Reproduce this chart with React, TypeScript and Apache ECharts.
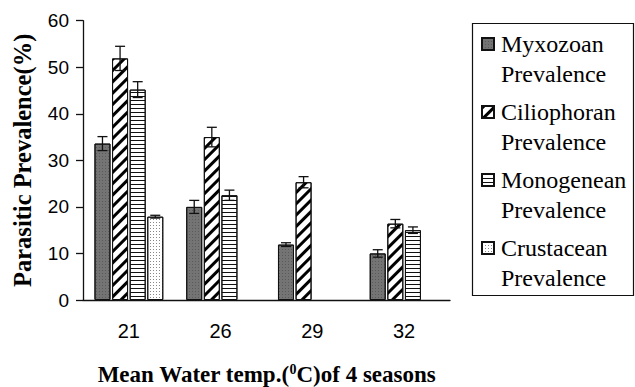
import React, { useEffect, useRef } from "react";
import * as echarts from "echarts";

const categories = ["21", "26", "29", "32"];
const seriesNames = [
  "Myxozoan Prevalence",
  "Ciliophoran Prevalence",
  "Monogenean Prevalence",
  "Crustacean Prevalence",
];
const myxozoan = [33.6, 20.0, 11.9, 10.0];
const myxozoanErr = [1.5, 1.4, 0.4, 0.8];
const ciliophoran = [51.9, 35.0, 25.3, 16.4];
const ciliophoranErr = [2.6, 2.1, 1.2, 0.9];
const monogenean = [45.2, 22.5, null, 15.0];
const monogeneanErr = [1.7, 1.1, null, 0.7];
const crustacean = [17.9, null, null, null];
const crustaceanErr = [0.3, null, null, null];
const yTicks = [0, 10, 20, 30, 40, 50, 60];

const values = [myxozoan, ciliophoran, monogenean, crustacean];
const errors = [myxozoanErr, ciliophoranErr, monogeneanErr, crustaceanErr];

const BAR_W = 16;
const GAP_PCT = 0.1;
const SERIF = "'Liberation Serif', 'Times New Roman', serif";
const SANS = "'Liberation Sans', Arial, sans-serif";

const decals: any[] = [
  { symbol: "rect", symbolSize: 1, dashArrayX: [1, 2], dashArrayY: [1, 2], color: "rgba(40,40,40,0.35)" },
  { symbol: "rect", symbolSize: 1, dashArrayX: [1, 0], dashArrayY: [2.5, 4.5], rotation: -Math.PI / 4, color: "#000" },
  { symbol: "rect", symbolSize: 1, dashArrayX: [1, 0], dashArrayY: [1, 2.5], color: "#111" },
  { symbol: "rect", symbolSize: 1, dashArrayX: [1, 2], dashArrayY: [1, 2], color: "#888" },
];
const fills = ["#747474", "#ffffff", "#ffffff", "#ffffff"];

const serifRich = {
  t: {
    fontFamily: SERIF,
    fontSize: 24,
    lineHeight: 30,
    color: "#000",
    padding: [0, 0, 0, 2],
  },
};

export default function App() {
  const ref = useRef<HTMLDivElement>(null);
  useEffect(() => {
    if (!ref.current) return;
    const chart = echarts.init(ref.current, null, { renderer: "svg" });
    const barSeries = seriesNames.map((name, i) => ({
      name,
      type: "bar",
      data: values[i],
      barWidth: BAR_W,
      barGap: GAP_PCT * 100 + "%",
      itemStyle: {
        color: fills[i],
        borderColor: "#111",
        borderWidth: 1,
        decal: decals[i],
      },
      z: 2,
    }));
    const errSeries = seriesNames.map((name, i) => ({
      type: "custom",
      name: name + " err",
      z: 5,
      encode: { x: 0, y: [1, 2] },
      data: values[i]
        .map((v, k) => (v == null || errors[i][k] == null ? null : [k, (v as number) - (errors[i][k] as number), (v as number) + (errors[i][k] as number)]))
        .filter((d) => d !== null),
      renderItem: (params: any, api: any) => {
        const x = api.value(0);
        const lo = api.coord([x, api.value(1)]);
        const hi = api.coord([x, api.value(2)]);
        const gap = BAR_W * GAP_PCT;
        const total = 4 * BAR_W + 3 * gap;
        const cx = lo[0] - total / 2 + i * (BAR_W + gap) + BAR_W / 2;
        const hw = 5;
        const style = { stroke: "#111", lineWidth: 1.3 };
        return {
          type: "group",
          children: [
            { type: "line", shape: { x1: cx, y1: lo[1], x2: cx, y2: hi[1] }, style },
            { type: "line", shape: { x1: cx - hw, y1: hi[1], x2: cx + hw, y2: hi[1] }, style },
            { type: "line", shape: { x1: cx - hw, y1: lo[1], x2: cx + hw, y2: lo[1] }, style },
          ],
        };
      },
    }));
    const legends = seriesNames.map((name, i) => ({
      data: [{ name, icon: "rect" }],
      left: 481,
      top: 44 - 45 + i * 68,
      orient: "vertical",
      padding: 0,
      itemWidth: 12,
      itemHeight: 12,
      itemGap: 0,
      selectedMode: false,
      formatter: (n: string) => {
        const parts = n.split(" ");
        return "{t| }\n{t|" + parts[0] + "}\n{t|" + parts[1] + "}";
      },
      textStyle: {
        fontFamily: SERIF,
        fontSize: 24,
        lineHeight: 30,
        color: "#000",
        rich: serifRich,
      },
    }));
    chart.setOption({
      animation: false,
      backgroundColor: "#fff",
      textStyle: { fontFamily: SERIF },
      grid: {
        left: 83,
        top: 20.7,
        right: 185,
        bottom: 87,
        containLabel: false,
        outerBoundsMode: "none",
      },
      legend: legends,
      graphic: [
        {
          type: "rect",
          shape: { x: 472.5, y: 23.5, width: 161, height: 272 },
          style: { fill: "none", stroke: "#111", lineWidth: 1.2 },
          z: 0,
        },
      ],
      xAxis: {
        type: "category",
        data: categories,
        name: "Mean Water temp.({sup|0}C)of 4 seasons",
        nameLocation: "middle",
        nameGap: 62,
        nameTextStyle: {
          fontFamily: SERIF,
          fontWeight: "bold",
          fontSize: 23,
          color: "#000",
          rich: {
            sup: {
              fontFamily: SERIF,
              fontWeight: "bold",
              fontSize: 14,
              verticalAlign: "bottom",
              padding: [0, 0, 11, 0],
              color: "#000",
            },
          },
        },
        axisLine: { lineStyle: { color: "#111", width: 1.3 } },
        axisTick: { length: 5, lineStyle: { color: "#111", width: 1.3 } },
        axisLabel: {
          margin: 21,
          fontFamily: SANS,
          fontSize: 20,
          color: "#000",
        },
      },
      yAxis: {
        type: "value",
        min: yTicks[0],
        max: yTicks[yTicks.length - 1],
        interval: 10,
        name: "Parasitic Prevalence(%)",
        nameLocation: "middle",
        nameGap: 48,
        nameTextStyle: {
          fontFamily: SERIF,
          fontWeight: "bold",
          fontSize: 24.5,
          color: "#000",
        },
        axisLine: { show: true, lineStyle: { color: "#111", width: 1.3 } },
        axisTick: { show: true, length: 7, lineStyle: { color: "#111", width: 1.3 } },
        splitLine: { show: false },
        axisLabel: {
          margin: 14,
          fontFamily: SANS,
          fontSize: 19,
          color: "#000",
        },
      },
      series: [...barSeries, ...errSeries],
    });
    return () => chart.dispose();
  }, []);
  return (
    <div
      ref={ref}
      style={{ position: "fixed", left: 0, top: 0, width: 635, height: 387 }}
    />
  );
}
